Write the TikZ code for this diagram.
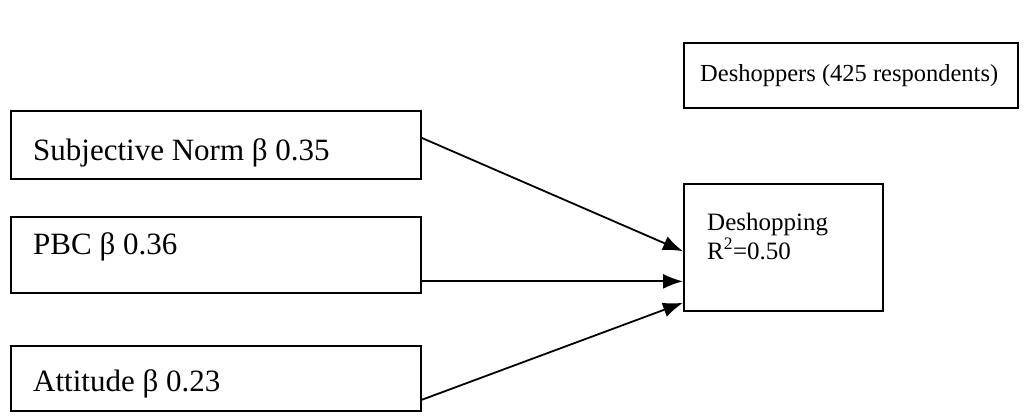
\documentclass[tikz,border=0pt]{standalone}
\usepackage{fontspec}
\setmainfont{Liberation Serif}
\usetikzlibrary{arrows.meta,calc}
\begin{document}
\begin{tikzpicture}[x=1pt,y=-1pt,
  box/.style={draw=black, line width=1.8pt, rectangle, inner sep=0pt, anchor=north west},
  txt/.style={font=\fontsize{31}{35}\selectfont, inner sep=0pt, anchor=base west},
  rtxt/.style={font=\fontsize{25}{29}\selectfont, inner sep=0pt, anchor=base west},
  conn/.style={line width=1.8pt, -{Latex[length=20pt,width=15pt]}}]
\useasboundingbox (0,0) rectangle (1032,417);
% boxes
\node[box, minimum width=334pt, minimum height=65pt] (top) at (683,42) {};
\node[box, minimum width=410pt, minimum height=68pt] (sn) at (10,110) {};
\node[box, minimum width=410pt, minimum height=76pt] (pbc) at (10,216) {};
\node[box, minimum width=410pt, minimum height=65pt] (att) at (10,345) {};
\node[box, minimum width=199pt, minimum height=127pt] (des) at (683,183) {};
% texts
\node[rtxt, font=\fontsize{24.5}{28}\selectfont] (toptxt) at (700,82) {Deshoppers (425 respondents)};
\node[txt] (sntxt) at (33,160) {Subjective Norm β 0.35};
\node[txt] (pbctxt) at (33,254) {PBC β 0.36};
\node[txt] (atttxt) at (33,391) {Attitude β 0.23};
\node[rtxt] (destxt1) at (707,230) {Deshopping};
\node[rtxt] (destxt2) at (707,259) {R\textsuperscript{2}=0.50};
% connectors
\coordinate (snout) at ($(sn.north east)!0.4!(sn.south east)$);
\coordinate (pbcout) at ($(pbc.north east)!0.84!(pbc.south east)$);
\coordinate (attout) at ($(att.north east)!0.82!(att.south east)$);
\coordinate (desin1) at ($(des.north west)!0.53!(des.south west)$);
\coordinate (desin3) at ($(des.north west)!0.93!(des.south west)$);
\draw[conn] (snout) -- (desin1);
\draw[conn] (pbcout) -- (pbcout -| des.west);
\draw[conn] (attout) -- (desin3);
\end{tikzpicture}
\end{document}
